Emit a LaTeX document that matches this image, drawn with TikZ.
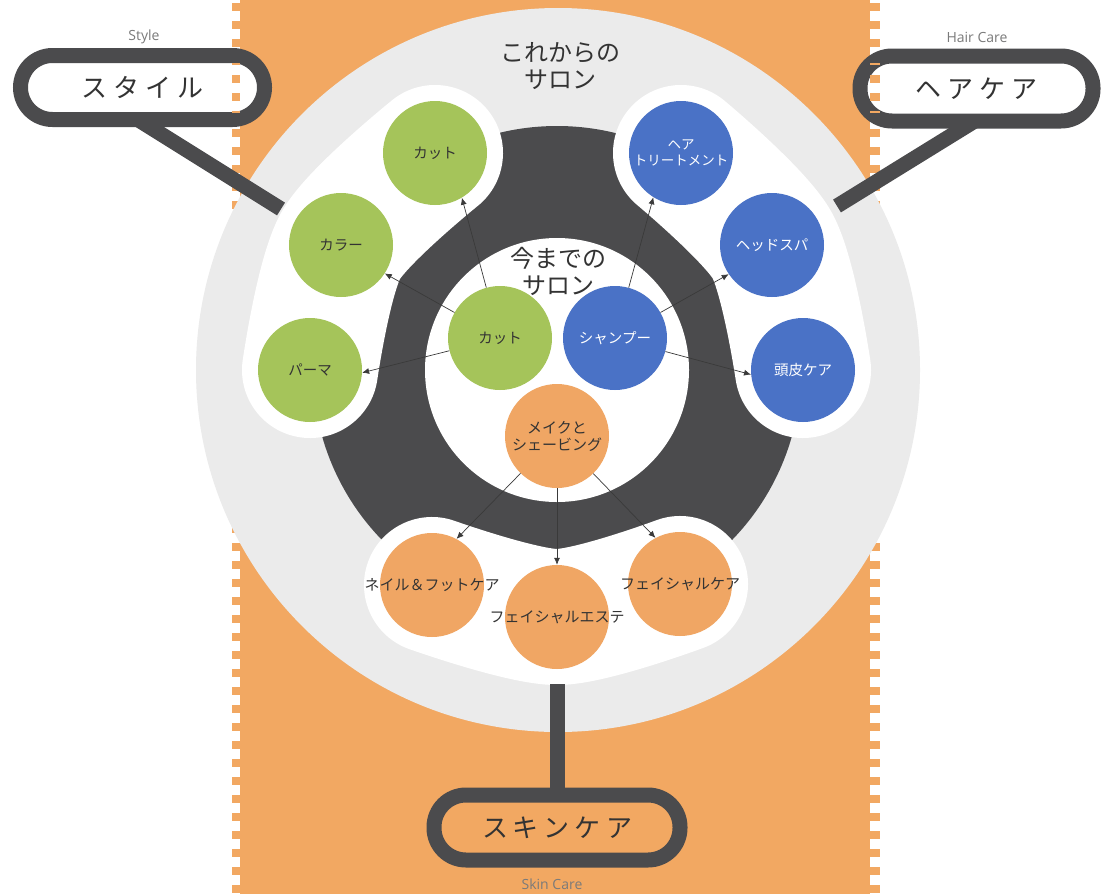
\documentclass[tikz,border=0pt]{standalone}
\usepackage{fontspec}
\newfontfamily\jp{Noto Sans CJK JP}
\newfontfamily\en{Open Sans}
\usetikzlibrary{arrows.meta}
\definecolor{band}{HTML}{F2A862}
\definecolor{lgray}{HTML}{EBEBEB}
\definecolor{darkc}{HTML}{4B4B4D}
\definecolor{greenc}{HTML}{A5C45A}
\definecolor{bluec}{HTML}{4A72C6}
\definecolor{orangec}{HTML}{F0A664}
\definecolor{txt}{HTML}{333333}
\definecolor{entxt}{HTML}{7A7A7A}
\definecolor{arrowc}{HTML}{3A3A3A}
\newcommand{\zw}[1]{\makebox[0pt]{#1}}
\newcommand{\gp}{\hspace{6pt}}
\begin{document}
\begin{tikzpicture}[x=1pt,y=-1pt,
  circ/.style={circle, minimum size=104pt, inner sep=0pt, align=center, text=txt,
    font=\jp\fontsize{14.5}{16.5}\selectfont},
  gcirc/.style={circ, fill=greenc},
  bcirc/.style={circ, fill=bluec, text=white},
  ocirc/.style={circ, fill=orangec, font=\jp\fontsize{15}{17}\selectfont},
  arr/.style={draw=arrowc, line width=0.7pt, -{Latex[length=7pt,width=6pt]}},
  capsule/.style={rectangle, draw=darkc, line width=15pt, rounded corners=32pt,
    inner sep=0pt, text=txt, font=\jp\fontsize{26}{28}\selectfont},
  conn/.style={draw=darkc, line width=15pt},
  blob/.style={draw=white, line width=136pt, line cap=round, line join=round},
  entext/.style={text=entxt, font=\en\fontsize{14}{16}\selectfont},
  big/.style={text=txt, align=center, font=\jp\fontsize{24}{27}\selectfont}]
\useasboundingbox (0,0) rectangle (1105,894);
\fill[white] (0,0) rectangle (1105,894);
% orange band with perforated edges
\fill[band] (240,0) rectangle (870,894);
\foreach \k in {0,...,49}{
  \fill[band] (232,{3+18*\k}) rectangle (240,{11+18*\k});
  \fill[band] (870,{3+18*\k}) rectangle (880,{11+18*\k});
}
% big circle and ring
\fill[lgray] (558,370) circle (362pt);
\fill[darkc] (557,370) circle (244pt);
% white blobs
\draw[blob] plot[smooth] coordinates {(435,153) (341,245) (310,370)};
\draw[blob] plot[smooth] coordinates {(681,153) (772,245) (803,370)};
\draw[blob] plot[smooth] coordinates {(432,585) (557,617) (680,584)};
\fill[white] (557,370) circle (132pt);
% thick connectors
\coordinate (s1) at (137,119);
\coordinate (s2) at (281,209);
\coordinate (h1) at (978,119);
\coordinate (h2) at (837,206);
\coordinate (k1) at (557,684);
\coordinate (k2) at (557,796);
\draw[conn] (s1) -- (s2);
\draw[conn] (h1) -- (h2);
\draw[conn] (k1) -- (k2);
% capsules
\node[capsule, fill=white, minimum width=244pt, minimum height=64pt] (style) at (142.5,87.5) {ス\gp タ\gp イ\gp ル};
\node[capsule, fill=white, minimum width=233pt, minimum height=65pt] (hair) at (976.5,88.5) {ヘ\gp ア\gp ケ\gp ア};
\node[capsule, minimum width=246pt, minimum height=65pt] (skin) at (557,827.5) {ス\hspace{5pt}キ\hspace{5pt}ン\hspace{5pt}ケ\hspace{5pt}ア};
\begin{scope}
  \clip (28,63) rectangle (256,112);
  \foreach \k in {3,...,6}{\fill[band] (232,{3+18*\k}) rectangle (240,{11+18*\k});}
\end{scope}
\begin{scope}
  \clip (868,63) rectangle (1085,112);
  \foreach \k in {3,...,6}{\fill[band] (870,{3+18*\k}) rectangle (880,{11+18*\k});}
\end{scope}
% english labels
\node[entext] (styleEn) at (144,37) {Style};
\node[entext] (hairEn) at (977,37) {Hair Care};
\node[entext] (skinEn) at (552,884) {Skin Care};
% headings
\node[big] (future) at (560,66) {これからの\\サロン};
\node[big] (past) at (558,271) {今までの\\サロン};
% circles
\node[gcirc] (ct) at (435,153) {カット};
\node[gcirc] (color) at (341,245) {カラー};
\node[gcirc] (perm) at (310,370) {パーマ};
\node[gcirc] (cut) at (500,338) {カット};
\node[bcirc] (sham) at (615,338) {シャンプー};
\node[bcirc, font=\jp\fontsize{13.5}{15.5}\selectfont] (ht) at (681,153) {ヘア\\トリートメント};
\node[bcirc] (spa) at (772,245) {ヘッドスパ};
\node[bcirc] (scalp) at (803,370) {頭皮ケア};
\node[ocirc] (make) at (557,436) {メイクと\\シェービング};
\node[ocirc] (nail) at (432,585) {\zw{ネイル＆フットケア}};
\node[ocirc] (este) at (557,617) {\zw{フェイシャルエステ}};
\node[ocirc] (fcare) at (680,584) {\zw{フェイシャルケア}};
% arrows
\draw[arr] (cut) -- (ct.-59);
\draw[arr] (cut) -- (color.-33);
\draw[arr] (cut) -- (perm.-3);
\draw[arr] (sham) -- (ht.-122);
\draw[arr] (sham) -- (spa.-146);
\draw[arr] (sham) -- (scalp.-175);
\draw[arr] (make) -- (nail.62);
\draw[arr] (make) -- (este.90);
\draw[arr] (make) -- (fcare.118);
\end{tikzpicture}
\end{document}
